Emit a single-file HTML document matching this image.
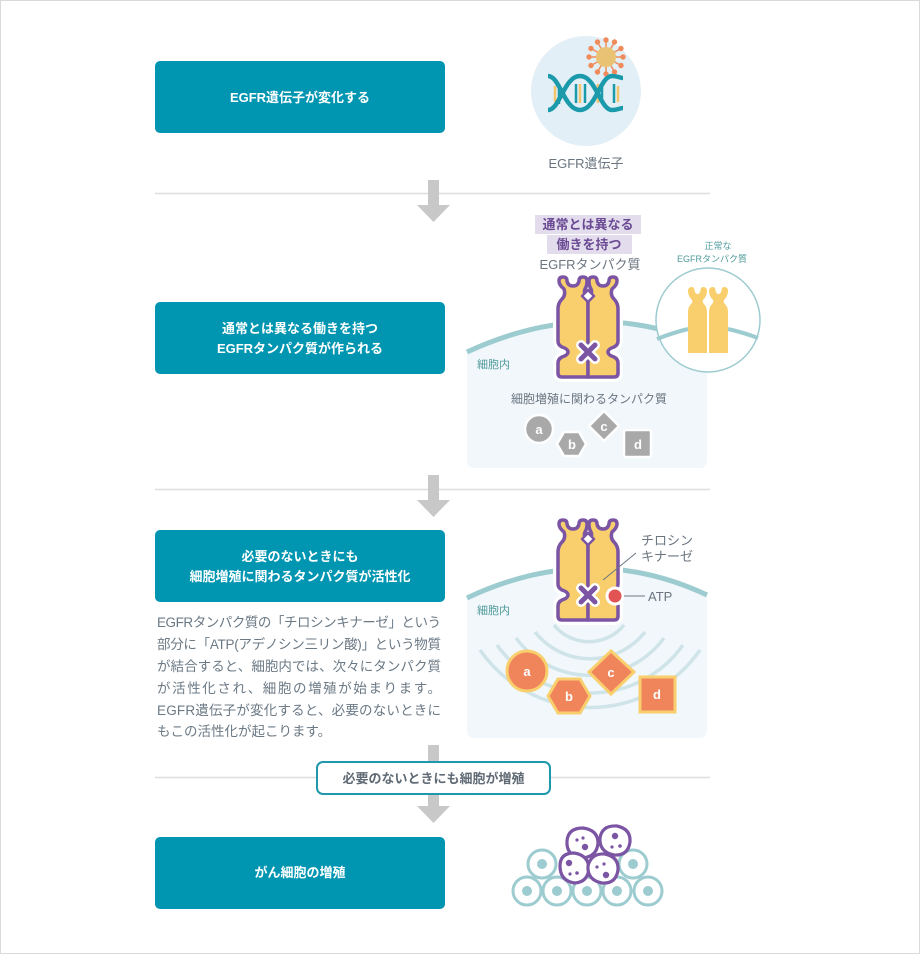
<!DOCTYPE html>
<html><head><meta charset="utf-8"><style>
html,body{margin:0;padding:0;background:#fff}
svg{display:block}
text{font-family:"Liberation Sans","Noto Sans CJK JP",sans-serif}
</style></head><body>
<svg width="920" height="954" viewBox="0 0 920 954" xmlns="http://www.w3.org/2000/svg">
<defs>
<g id="half">
<path d="M30,100 L4,100 Q0,100 0,96 L0,86 Q0,82 4,80 Q10,78 10,75 Q10,72 4,70 Q0,68 0,64 L0,32 Q0,26 4,22 Q8,18 6,12 Q1,8 1,4 Q1,0 5,0 Q9,0 9,4 Q10,9 15,9 Q20,9 21,4 Q21,0 25,0 Q29,0 29,4 Q29,9 27,12 Q25,16 30,22 Z"/>
</g>
<g id="rec">
<g fill="#fff" stroke="#fff" stroke-width="10" stroke-linejoin="round"><use href="#half"/><use href="#half" transform="translate(60,0) scale(-1,1)"/></g>
<g fill="#f9cf6e" stroke="#7b55a3" stroke-width="3.5" stroke-linejoin="round"><use href="#half"/><use href="#half" transform="translate(60,0) scale(-1,1)"/></g>
<path d="M30,13 L36,19 L30,25 L24,19 Z" fill="#fff" stroke="#7b55a3" stroke-width="2.5" stroke-linejoin="round"/>
<path d="M23,68 L37,82 M37,68 L23,82" stroke="#fff" stroke-width="10" stroke-linecap="round"/>
<path d="M23,68 L37,82 M37,68 L23,82" stroke="#7b55a3" stroke-width="5" stroke-linecap="round"/>
</g>
<path id="nh" d="M0,4 Q0,0 4,0 Q6,0 6.5,3 Q7,7 9.5,7 Q12,7 12.5,3 Q13,0 15,0 Q19,0 19,4 Q19,9 15,13 Q14,15 16,17 Q19,20 19,25 L19,66 L0,66 L0,25 Q0,20 3,17 Q5,15 4,13 Q0,9 0,4 Z"/>
<clipPath id="p3"><rect x="467" y="540" width="240" height="198" rx="8"/></clipPath>
</defs>
<rect x="0.5" y="0.5" width="919" height="953" fill="#fff" stroke="#d9d9d9"/>

<line x1="155" y1="193.5" x2="710" y2="193.5" stroke="#dedede" stroke-width="1.5"/>
<line x1="155" y1="489.5" x2="710" y2="489.5" stroke="#dedede" stroke-width="1.5"/>
<line x1="155" y1="777.5" x2="710" y2="777.5" stroke="#dedede" stroke-width="1.5"/>

<g fill="#c8c8c8">
<rect x="428" y="180" width="11" height="26"/><path d="M417,205 L450,205 L433.5,222 Z"/>
<rect x="428" y="475" width="11" height="26"/><path d="M417,500 L450,500 L433.5,517 Z"/>
<rect x="428" y="745" width="11" height="62"/><path d="M417,806 L450,806 L433.5,823 Z"/>
</g>

<g fill="#0096b1">
<rect x="155" y="61" width="290" height="72" rx="5"/>
<rect x="155" y="302" width="290" height="72" rx="5"/>
<rect x="155" y="530" width="290" height="72" rx="5"/>
<rect x="155" y="837" width="290" height="72" rx="5"/>
</g>
<g fill="#fff" font-size="13" font-weight="bold" text-anchor="middle">
<text x="300" y="102">EGFR遺伝子が変化する</text>
<text x="300" y="333">通常とは異なる働きを持つ</text>
<text x="300" y="353">EGFRタンパク質が作られる</text>
<text x="300" y="561">必要のないときにも</text>
<text x="300" y="581">細胞増殖に関わるタンパク質が活性化</text>
<text x="300" y="877">がん細胞の増殖</text>
</g>

<g fill="#6b7985" font-size="13.5">
<text x="157" y="627" textLength="284">EGFRタンパク質の「チロシンキナーゼ」という</text>
<text x="157" y="649" textLength="284">部分に「ATP(アデノシン三リン酸)」という物質</text>
<text x="157" y="671" textLength="284">が結合すると、細胞内では、次々にタンパク質</text>
<text x="157" y="693" textLength="284">が活性化され、細胞の増殖が始まります。</text>
<text x="157" y="715" textLength="284">EGFR遺伝子が変化すると、必要のないときに</text>
<text x="157" y="736">もこの活性化が起こります。</text>
</g>

<rect x="317" y="762" width="233" height="32" rx="6" fill="#fff" stroke="#1f97ad" stroke-width="2"/>
<text x="433.5" y="783" text-anchor="middle" font-size="13" font-weight="bold" fill="#5f6a74">必要のないときにも細胞が増殖</text>

<circle cx="586" cy="91" r="55" fill="#e3eff6"/>
<g stroke="#f08a5a" stroke-width="1.5">
<g transform="translate(606,57)">
<line x1="0" y1="0" x2="0" y2="-16"/><line x1="0" y1="0" x2="14" y2="-8"/><line x1="0" y1="0" x2="14" y2="8"/><line x1="0" y1="0" x2="0" y2="16"/><line x1="0" y1="0" x2="-14" y2="8"/><line x1="0" y1="0" x2="-14" y2="-8"/>
<line x1="0" y1="0" x2="8" y2="-14"/><line x1="0" y1="0" x2="16" y2="0"/><line x1="0" y1="0" x2="8" y2="14"/><line x1="0" y1="0" x2="-8" y2="14"/><line x1="0" y1="0" x2="-16" y2="0"/><line x1="0" y1="0" x2="-8" y2="-14"/>
</g></g>
<g fill="#f08a5a" transform="translate(606,57)">
<circle cx="0" cy="-17" r="2.7"/><circle cx="15" cy="-8.5" r="2.7"/><circle cx="15" cy="8.5" r="2.7"/><circle cx="0" cy="17" r="2.7"/><circle cx="-15" cy="8.5" r="2.7"/><circle cx="-15" cy="-8.5" r="2.7"/>
<circle cx="8.5" cy="-15" r="2.7"/><circle cx="17" cy="0" r="2.7"/><circle cx="8.5" cy="15" r="2.7"/><circle cx="-8.5" cy="15" r="2.7"/><circle cx="-17" cy="0" r="2.7"/><circle cx="-8.5" cy="-15" r="2.7"/>
</g>
<circle cx="606" cy="57" r="10" fill="#e9c373"/>
<g stroke-width="2.5">
<line x1="555" y1="86" x2="555" y2="102" stroke="#f4c56a"/><line x1="559" y1="84" x2="559" y2="104" stroke="#1a9aab"/>
<line x1="576" y1="84" x2="576" y2="103" stroke="#1a9aab"/><line x1="580" y1="84" x2="580" y2="103" stroke="#f4c56a"/><line x1="585" y1="84" x2="585" y2="103" stroke="#1a9aab"/>
<line x1="598" y1="84" x2="598" y2="103" stroke="#f4c56a"/><line x1="602" y1="84" x2="602" y2="103" stroke="#1a9aab"/>
<line x1="614" y1="84" x2="614" y2="103" stroke="#1a9aab"/><line x1="618" y1="86" x2="618" y2="102" stroke="#f4c56a"/>
</g>
<g fill="none" stroke="#1a9aab" stroke-width="4.5">
<path d="M548,76 C560,76 564,110 580,110 C596,110 600,76 612,76 C618,76 620,78 623,78"/>
<path d="M548,110 C560,110 564,76 580,76 C596,76 600,110 612,110 C618,110 620,108 623,108"/>
</g>
<text x="586" y="168" text-anchor="middle" font-size="13" fill="#6a7580">EGFR遺伝子</text>

<path d="M467,352 Q590,295 707,345 L707,460 Q707,468 699,468 L475,468 Q467,468 467,460 Z" fill="#f1f7fb"/>
<path d="M467,352 Q590,295 707,345" fill="none" stroke="#9ccbd0" stroke-width="5"/>
<text x="477" y="368" font-size="11" fill="#4e9a9a">細胞内</text>
<rect x="535" y="215" width="106" height="19" fill="#e2dcec"/>
<rect x="547" y="235" width="85" height="19" fill="#e2dcec"/>
<g font-size="13" font-weight="bold" fill="#6b4a94" text-anchor="middle">
<text x="588" y="229">通常とは異なる</text>
<text x="589" y="249">働きを持つ</text>
</g>
<text x="590" y="269" text-anchor="middle" font-size="13" fill="#6a7580">EGFRタンパク質</text>
<use href="#rec" transform="translate(558,277)"/>
<circle cx="708" cy="320" r="52" fill="#fff" stroke="#9ccbd0" stroke-width="1.5"/>
<path d="M657,339 Q672,333 688,329 M728,329 Q745,333 758,338" fill="none" stroke="#9ccbd0" stroke-width="4"/>
<g fill="#f9cf6e">
<use href="#nh" transform="translate(688,287)"/>
<use href="#nh" transform="translate(709,287)"/>
</g>
<g font-size="9" fill="#4e9a9a" text-anchor="middle">
<text x="718" y="249">正常な</text>
<text x="712" y="262">EGFRタンパク質</text>
</g>
<text x="589" y="403" text-anchor="middle" font-size="12" fill="#6a7580">細胞増殖に関わるタンパク質</text>
<g fill="#a9a9a9" stroke="#fff" stroke-width="2.5">
<circle cx="539" cy="429" r="14"/>
<path d="M557,444 L564,432 L579,432 L586,444 L579,456 L564,456 Z"/>
<path d="M604,411 L619,426 L604,441 L589,426 Z"/>
<rect x="624" y="430" width="27" height="27" rx="2"/>
</g>
<g fill="#fff" font-size="13" font-weight="bold" text-anchor="middle">
<text x="539" y="434">a</text><text x="572" y="449">b</text><text x="604" y="431">c</text><text x="638" y="449">d</text>
</g>

<path d="M467,598 Q590,540 707,595 L707,730 Q707,738 699,738 L475,738 Q467,738 467,730 Z" fill="#f1f7fb"/>
<g clip-path="url(#p3)" fill="none" stroke="#cfe4e8" stroke-width="3.5">
<path d="M554,625 A45,45 0 0 0 624,625"/>
<path d="M535,632 A70,70 0 0 0 645,632"/>
<path d="M516,638 A92,92 0 0 0 664,638"/>
<path d="M497,645 A114,114 0 0 0 683,645"/>
<path d="M480,650 A134,134 0 0 0 700,650"/>
</g>
<path d="M467,598 Q590,540 707,595" fill="none" stroke="#9ccbd0" stroke-width="5"/>
<text x="477" y="614" font-size="11" fill="#4e9a9a">細胞内</text>
<use href="#rec" transform="translate(558,520)"/>
<circle cx="615" cy="596" r="8" fill="#e25454" stroke="#fff" stroke-width="3"/>
<line x1="624" y1="596" x2="645" y2="596" stroke="#6a7580" stroke-width="1"/>
<line x1="603" y1="580" x2="636" y2="553" stroke="#6a7580" stroke-width="1"/>
<g font-size="13" fill="#6a7580">
<text x="641" y="545">チロシン</text>
<text x="641" y="561">キナーゼ</text>
<text x="648" y="601">ATP</text>
</g>
<g fill="#f0845a" stroke="#f9cf6e" stroke-width="3">
<circle cx="527" cy="671" r="20"/>
<path d="M548,696 L558,679 L580,679 L590,696 L580,713 L558,713 Z"/>
<path d="M611,651 L634,672 L611,694 L589,672 Z"/>
<rect x="640" y="677" width="35" height="35"/>
</g>
<g fill="#fff" font-size="13" font-weight="bold" text-anchor="middle">
<text x="527" y="676">a</text><text x="569" y="701">b</text><text x="611" y="677">c</text><text x="657" y="699">d</text>
</g>

<g fill="#fff" stroke="#9ccbd0" stroke-width="3">
<circle cx="542" cy="864" r="14"/><circle cx="633" cy="864" r="14"/>
<circle cx="527" cy="891" r="14"/><circle cx="557" cy="891" r="14"/><circle cx="587" cy="891" r="14"/><circle cx="617" cy="891" r="14"/><circle cx="648" cy="891" r="14"/>
</g>
<g fill="#9ccbd0">
<circle cx="542" cy="864" r="5"/><circle cx="633" cy="864" r="5"/>
<circle cx="527" cy="891" r="5"/><circle cx="557" cy="891" r="5"/><circle cx="587" cy="891" r="5"/><circle cx="617" cy="891" r="5"/><circle cx="648" cy="891" r="5"/>
</g>
<g fill="#fff" stroke="#7b55a3" stroke-width="3.2">
<path d="M567,841 Q568,828 583,828 Q598,830 598,843 Q597,857 582,858 Q566,856 567,841 Z"/>
<path d="M600,838 Q602,825 617,826 Q631,829 630,842 Q628,856 614,855 Q599,852 600,838 Z"/>
<path d="M560,866 Q560,853 574,853 Q588,855 589,868 Q588,882 575,883 Q560,881 560,866 Z"/>
<path d="M588,866 Q591,853 605,854 Q619,857 618,870 Q616,884 602,883 Q587,880 588,866 Z"/>
</g>
<g fill="#7b55a3">
<circle cx="585" cy="847" r="3.2"/><circle cx="577" cy="840" r="1.6"/><circle cx="583" cy="838" r="1.6"/>
<circle cx="615" cy="836" r="3.2"/><circle cx="620" cy="846" r="1.8"/><circle cx="612" cy="847" r="1.6"/>
<circle cx="569" cy="863" r="3.2"/><circle cx="577" cy="873" r="1.8"/><circle cx="570" cy="874" r="1.6"/>
<circle cx="606" cy="875" r="3.2"/><circle cx="604" cy="864" r="1.6"/><circle cx="597" cy="867" r="1.6"/>
</g>
</svg>
</body></html>
